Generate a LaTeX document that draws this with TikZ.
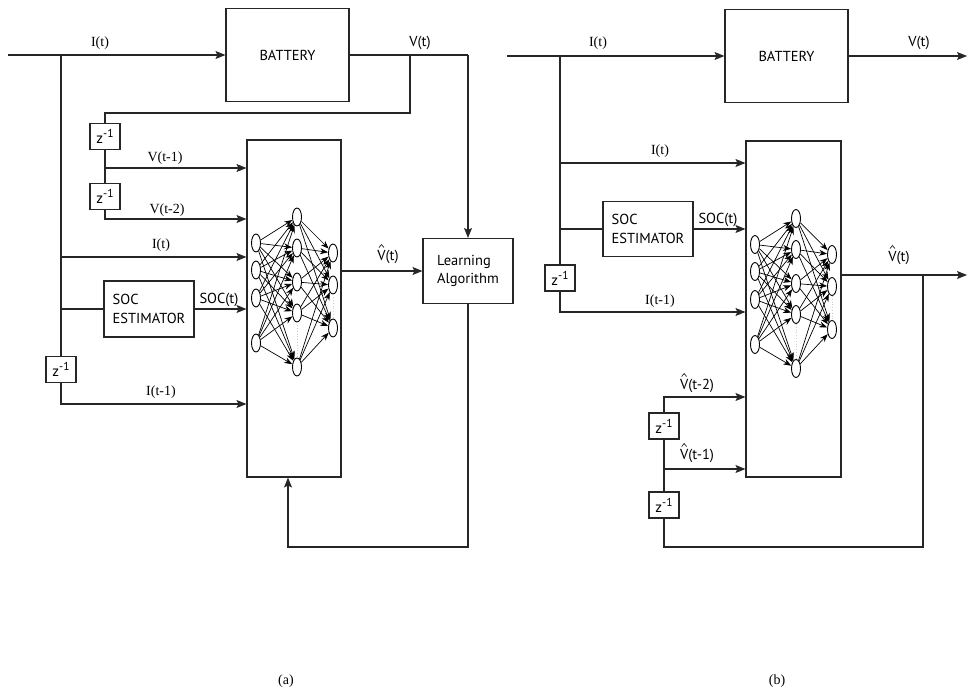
\documentclass[tikz,border=0pt]{standalone}
\usepackage{fontspec}
\setmainfont{Liberation Serif}
\newfontfamily\sansf{PT Sans}
\usetikzlibrary{arrows.meta,shapes.geometric,calc}
\newcommand\zinv{{\fontsize{15}{15}\selectfont z}\raisebox{0.42em}{\fontsize{11.5}{11.5}\selectfont -1}}
\newcommand\hatat[1]{\draw[hatline] ($(#1.north west)+(1.8,-2.5)$) -- ++(2.5,-3) -- ++(2.5,3);}
\tikzset{
 wire/.style={line width=1.1pt, draw=black!85},
 arr/.style={wire, -{Stealth[length=10pt,width=8pt,inset=2pt]}},
 blk/.style={draw=black!85, line width=1.1pt, rectangle, inner sep=0pt, align=left, font=\sansf\fontsize{14.5}{18.5}\selectfont},
 zbox/.style={blk, minimum width=30pt, minimum height=26pt},
 lbl/.style={font=\fontsize{14}{16}\selectfont, inner sep=0pt},
 slbl/.style={font=\sansf\fontsize{14.5}{16}\selectfont, inner sep=0pt},
 neuron/.style={draw, ellipse, minimum width=9pt, minimum height=18pt, inner sep=0pt, line width=0.9pt, fill=white},
 syn/.style={line width=0.7pt, -{Stealth[length=8pt,width=6pt]}},
 faint/.style={draw=gray!40, dotted, line width=0.8pt},
 hatline/.style={line width=0.7pt, draw=black!85},
}
\newcommand\nnet[3]{%
 \foreach \yy [count=\i] in {243,270,298,343} \node[neuron] (#1i\i) at (256+#2,\yy+#3) {};
 \foreach \yy [count=\i] in {217,248,282,313,367} \node[neuron] (#1h\i) at (297+#2,\yy+#3) {};
 \foreach \yy [count=\i] in {253,285,328} \node[neuron] (#1o\i) at (333+#2,\yy+#3) {};
 \foreach \i in {1,...,4} \foreach \j in {1,...,5} \draw[syn] (#1i\i) -- (#1h\j);
 \foreach \i in {1,...,5} \foreach \j in {1,...,3} \draw[syn] (#1h\i) -- (#1o\j);
 \draw[faint] (#1h4.south) -- (#1h5.north);
 \draw[faint] (#1o2.south) -- (#1o3.north);
}
\begin{document}
\begin{tikzpicture}[x=1pt,y=-1pt]
\useasboundingbox (0,0) rectangle (969,698);
% ---------------- (a) ----------------
\node[blk, minimum width=123pt, minimum height=93pt] (batA) at (287.5,55) {BATTERY};
\node[blk, minimum width=94pt, minimum height=337pt] (nnA) at (294,308.5) {};
\node[blk, minimum width=90pt, minimum height=65pt] (laA) at (468,271) {Learning\\Algorithm};
\node[blk, minimum width=90pt, minimum height=56pt] (socA) at (149,309) {SOC\\ESTIMATOR};
\node[zbox] (zA1) at (105,136.5) {\zinv};
\node[zbox] (zA2) at (105,196.5) {\zinv};
\node[zbox] (zA3) at (61,369.5) {\zinv};
\nnet{A}{0}{0}
\coordinate (inA) at (8,55);
\coordinate (jA1) at (61,55);
\coordinate (vA) at (468,55);
\coordinate (vtapA) at (410,55);
\coordinate (kA) at (410,113);
\coordinate (v1A) at (105,168);
\coordinate (v2A) at (105,219);
\coordinate (itA) at (61,257);
\coordinate (sA) at (61,309);
\coordinate (i1A) at (61,404);
\coordinate (fbA) at (468,547);
\coordinate (fbA2) at (288,547);
\draw[arr] (inA) -- (batA.west);
\draw[wire] (batA.east) -- (vA);
\draw[arr] (vA) -- (laA.north);
\draw[wire] (vtapA) -- (kA) -| (zA1.north);
\draw[wire] (zA1.south) -- (zA2.north);
\draw[arr] (v1A) -- (v1A -| nnA.west);
\draw[arr] (zA2.south) -- (v2A) -- (v2A -| nnA.west);
\draw[arr] (itA) -- (itA -| nnA.west);
\draw[wire] (sA) -- (socA.west);
\draw[arr] (socA.east) -- (socA.east -| nnA.west);
\draw[wire] (jA1) -- (zA3.north);
\draw[arr] (zA3.south) -- (i1A) -- (i1A -| nnA.west);
\draw[arr] (nnA.east |- laA.west) -- (laA.west);
\draw[arr] (laA.south) -- (fbA) -- (fbA2) -- (fbA2 |- nnA.south);
\node[lbl] (lA1) at (100,43) {I(t)};
\node[slbl] (lA2) at (420,43) {V(t)};
\node[lbl] (lA3) at (165,158) {V(t-1)};
\node[lbl] (lA4) at (167,210) {V(t-2)};
\node[lbl] (lA5) at (161,245) {I(t)};
\node[slbl] (lA6) at (219,300) {SOC(t)};
\node[lbl] (lA7) at (161,392) {I(t-1)};
\node[slbl] (lA8) at (388,257) {V(t)};
\hatat{lA8}
\node[lbl] (capA) at (286,681) {(a)};
% ---------------- (b) ----------------
\node[blk, minimum width=123pt, minimum height=93pt] (batB) at (786.5,56) {BATTERY};
\node[blk, minimum width=95pt, minimum height=336pt] (nnB) at (793.5,309) {};
\node[blk, minimum width=90pt, minimum height=55pt] (socB) at (648,229) {SOC\\ESTIMATOR};
\node[zbox] (zB1) at (560,278) {\zinv};
\node[zbox] (zB2) at (664,426) {\zinv};
\node[zbox] (zB3) at (664,505) {\zinv};
\nnet{B}{499}{1.5}
\coordinate (inB) at (507,56);
\coordinate (outB) at (967,56);
\coordinate (jB1) at (560,56);
\coordinate (itB) at (560,163);
\coordinate (sB) at (560,229);
\coordinate (i1B) at (560,312);
\coordinate (oB) at (967,275);
\coordinate (tapB) at (923,275);
\coordinate (fbB) at (923,547);
\coordinate (fbB2) at (664,547);
\coordinate (vh1B) at (664,469);
\coordinate (vh2B) at (664,397);
\draw[arr] (inB) -- (batB.west);
\draw[arr] (batB.east) -- (outB);
\draw[wire] (jB1) -- (zB1.north);
\draw[arr] (itB) -- (itB -| nnB.west);
\draw[wire] (sB) -- (socB.west);
\draw[arr] (socB.east) -- (socB.east -| nnB.west);
\draw[arr] (zB1.south) -- (i1B) -- (i1B -| nnB.west);
\draw[arr] (nnB.east |- oB) -- (oB);
\draw[wire] (tapB) -- (fbB) -- (fbB2) -- (zB3.south);
\draw[wire] (zB3.north) -- (zB2.south);
\draw[arr] (vh1B) -- (vh1B -| nnB.west);
\draw[arr] (zB2.north) -- (vh2B) -- (vh2B -| nnB.west);
\node[lbl] (lB1) at (598,43) {I(t)};
\node[slbl] (lB2) at (919,43) {V(t)};
\node[lbl] (lB3) at (660,151) {I(t)};
\node[slbl] (lB4) at (718,220) {SOC(t)};
\node[lbl] (lB5) at (660,301) {I(t-1)};
\node[slbl] (lB6) at (899,258) {V(t)};
\hatat{lB6}
\node[slbl] (lB7) at (697,386) {V(t-2)};
\hatat{lB7}
\node[slbl] (lB8) at (697,456) {V(t-1)};
\hatat{lB8}
\node[lbl] (capB) at (777,681) {(b)};
\end{tikzpicture}
\end{document}
